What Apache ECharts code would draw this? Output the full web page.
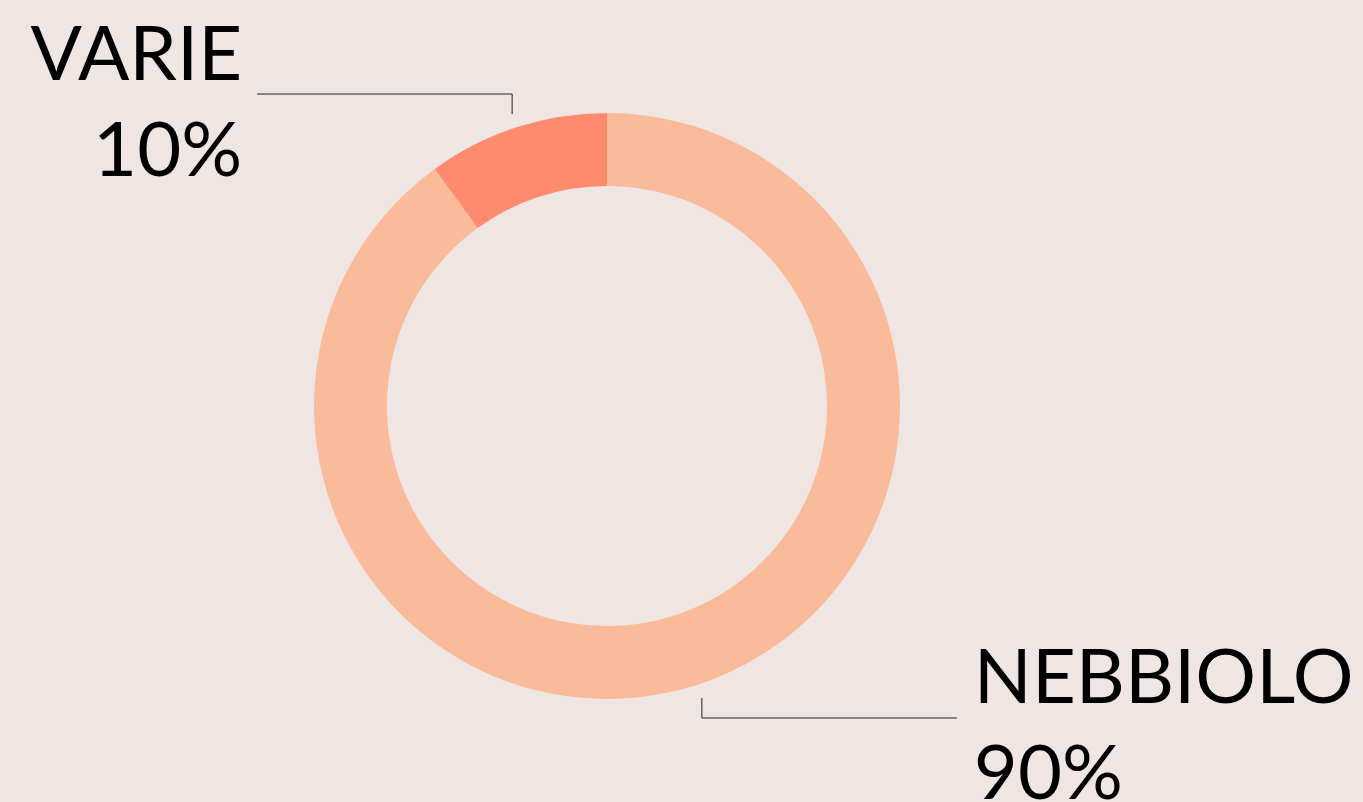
<!DOCTYPE html>
<html>
<head>
<meta charset="utf-8">
<script src="https://cdn.jsdelivr.net/npm/echarts@6/dist/echarts.min.js"></script>
<style>
  html, body { margin: 0; padding: 0; background: #EFE6E3; }
  #chart { width: 1363px; height: 802px; }
</style>
</head>
<body>
<div id="chart"></div>
<script>
const categories = ['NEBBIOLO', 'VARIE'];
const values = [90, 10];
const colors = ['#FABB9B', '#FF8B6F'];

const chart = echarts.init(document.getElementById('chart'));

// guide line: short vertical stub from the ring, then a long horizontal run
const stub = 20;
const run = 255;

const option = {
  backgroundColor: '#EFE6E3',
  animation: false,
  series: [{
    type: 'pie',
    center: [607, 406],
    radius: [220, 293],
    startAngle: 90,
    clockwise: true,
    avoidLabelOverlap: false,
    silent: true,
    data: categories.map((name, i) => ({
      name: name,
      value: values[i],
      itemStyle: { color: colors[i] }
    })),
    label: {
      show: true,
      position: 'outside',
      formatter: p => p.name + '\n' + p.value + '%',
      fontFamily: 'Lato',
      fontSize: 76,
      lineHeight: 96,
      color: '#000'
    },
    labelLine: {
      show: true,
      length: 14,
      length2: 0,
      lineStyle: { color: '#222', width: 1 }
    },
    labelLayout: function (params) {
      const pts = params.labelLinePoints;
      const start = pts[1];
      const goUp = pts[1][1] < pts[0][1];
      const goLeft = pts[1][0] < pts[0][0];
      const corner = [start[0], start[1] + (goUp ? -stub : stub)];
      const end = [corner[0] + (goLeft ? -run : run), corner[1]];
      return {
        x: goLeft ? end[0] - 15 : end[0] + 17,
        y: end[1] + 9,
        align: goLeft ? 'right' : 'left',
        verticalAlign: 'middle',
        labelLinePoints: [start, corner, end]
      };
    }
  }]
};

chart.setOption(option);
window.addEventListener('resize', () => chart.resize());
</script>
</body>
</html>
